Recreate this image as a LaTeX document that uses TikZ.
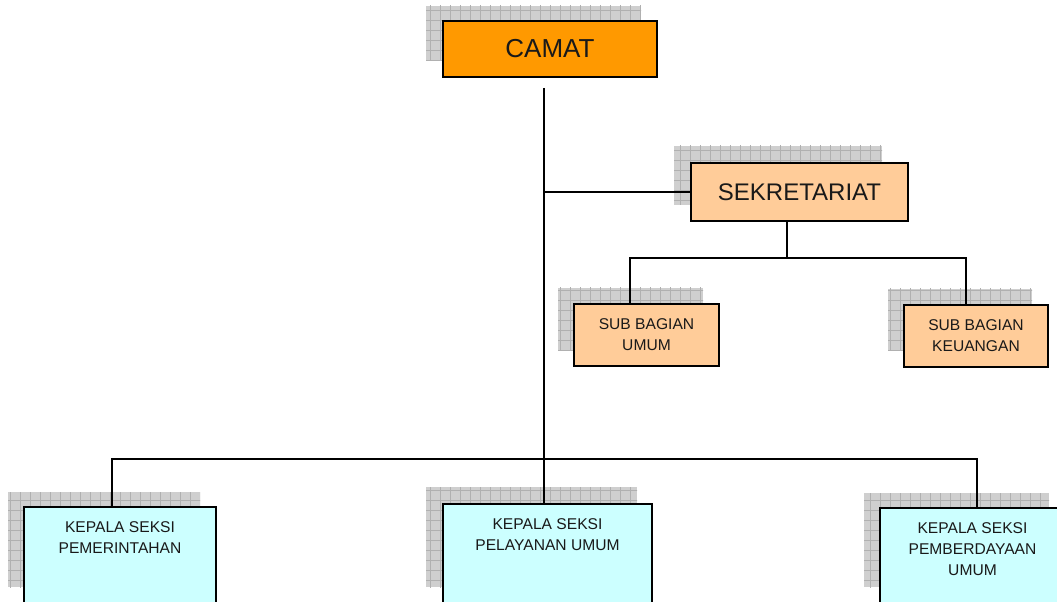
\documentclass[tikz,border=0pt]{standalone}
\usepackage{fontspec}
\setmainfont{Liberation Sans}
\usetikzlibrary{fit}
\definecolor{camatorange}{HTML}{FF9900}
\definecolor{sekpeach}{HTML}{FFCC99}
\definecolor{seksicyan}{HTML}{CCFFFF}
\newcommand{\gridshadow}[4]{%
  \begin{scope}
    \clip (#1,#2) rectangle (#3,#4);
    \fill[gray!38] (#1,#2) rectangle (#3,#4);
    \foreach \gx in {0,10,...,1060} \draw[gridline] (\gx,0) -- (\gx,610);
    \foreach \gy in {0,10,...,610} \draw[gridline] (0,\gy) -- (1060,\gy);
  \end{scope}}

\begin{document}
\begin{tikzpicture}[x=0.75pt,y=-0.75pt,
  gridline/.style={gray!62,line width=0.45pt},
  orgbox/.style={draw=black,line width=1.1pt,inner sep=0pt},
  link/.style={black,line width=1.1pt},
  boxtext/.style={align=center,inner sep=0pt,text=black!90},
  bigtext/.style={boxtext,font=\fontsize{19.5}{23}\selectfont},
  midtext/.style={boxtext,font=\fontsize{18}{22}\selectfont},
  smalltext/.style={boxtext,font=\fontsize{11.7}{15.75}\selectfont},
  seksilabel/.style={smalltext,anchor=north,yshift=-11.5pt}]
\useasboundingbox (0,0) rectangle (1057,602);
\clip (0,0) rectangle (1057,602);
\gridshadow{426}{6}{641}{61}
\gridshadow{674}{146}{882}{205}
\gridshadow{558}{288}{703}{351}
\gridshadow{888}{289}{1032}{351}
\gridshadow{8}{492}{200}{587}
\gridshadow{426}{487}{637}{587}
\gridshadow{864}{493}{1049}{587}
\coordinate (trunk) at (544,88);
\coordinate (sekdrop) at (787,258);
\coordinate (umumdrop) at (630,258);
\coordinate (keudrop) at (966,258);
\coordinate (pemdrop) at (112,459);
\coordinate (pemberdrop) at (977,459);
\node[orgbox,fill=camatorange,fit={(443,21) (657,77)},
  label={[bigtext]center:CAMAT}] (camat) {};
\node[orgbox,fill=sekpeach,fit={(691,163) (908,221)},
  label={[midtext]center:SEKRETARIAT}] (sekretariat) {};
\node[orgbox,fill=sekpeach,fit={(574,304) (719,366)},
  label={[smalltext]center:{SUB BAGIAN\\UMUM}}] (umum) {};
\node[orgbox,fill=sekpeach,fit={(904,305) (1048,367)},
  label={[smalltext]center:{SUB BAGIAN\\KEUANGAN}}] (keuangan) {};
\node[orgbox,fill=seksicyan,fit={(24,507) (216,620)},
  label={[seksilabel]north:{KEPALA SEKSI\\PEMERINTAHAN}}] (pemerintahan) {};
\node[orgbox,fill=seksicyan,fit={(443,504) (652,620)},
  label={[seksilabel]north:{KEPALA SEKSI\\PELAYANAN UMUM}}] (pelayanan) {};
\node[orgbox,fill=seksicyan,fit={(880,508) (1065,620)},
  label={[seksilabel]north:{KEPALA SEKSI\\PEMBERDAYAAN\\UMUM}}] (pemberdayaan) {};
\draw[link] (trunk) -- (trunk |- pelayanan.north);
\draw[link] (trunk |- sekretariat.west) -- (sekretariat.west);
\draw[link] (sekdrop |- sekretariat.south) -- (sekdrop);
\draw[link] (umumdrop |- umum.north) -- (umumdrop) -- (keudrop) -- (keudrop |- keuangan.north);
\draw[link] (pemdrop |- pemerintahan.north) -- (pemdrop) -- (pemberdrop) -- (pemberdrop |- pemberdayaan.north);
\end{tikzpicture}
\end{document}
